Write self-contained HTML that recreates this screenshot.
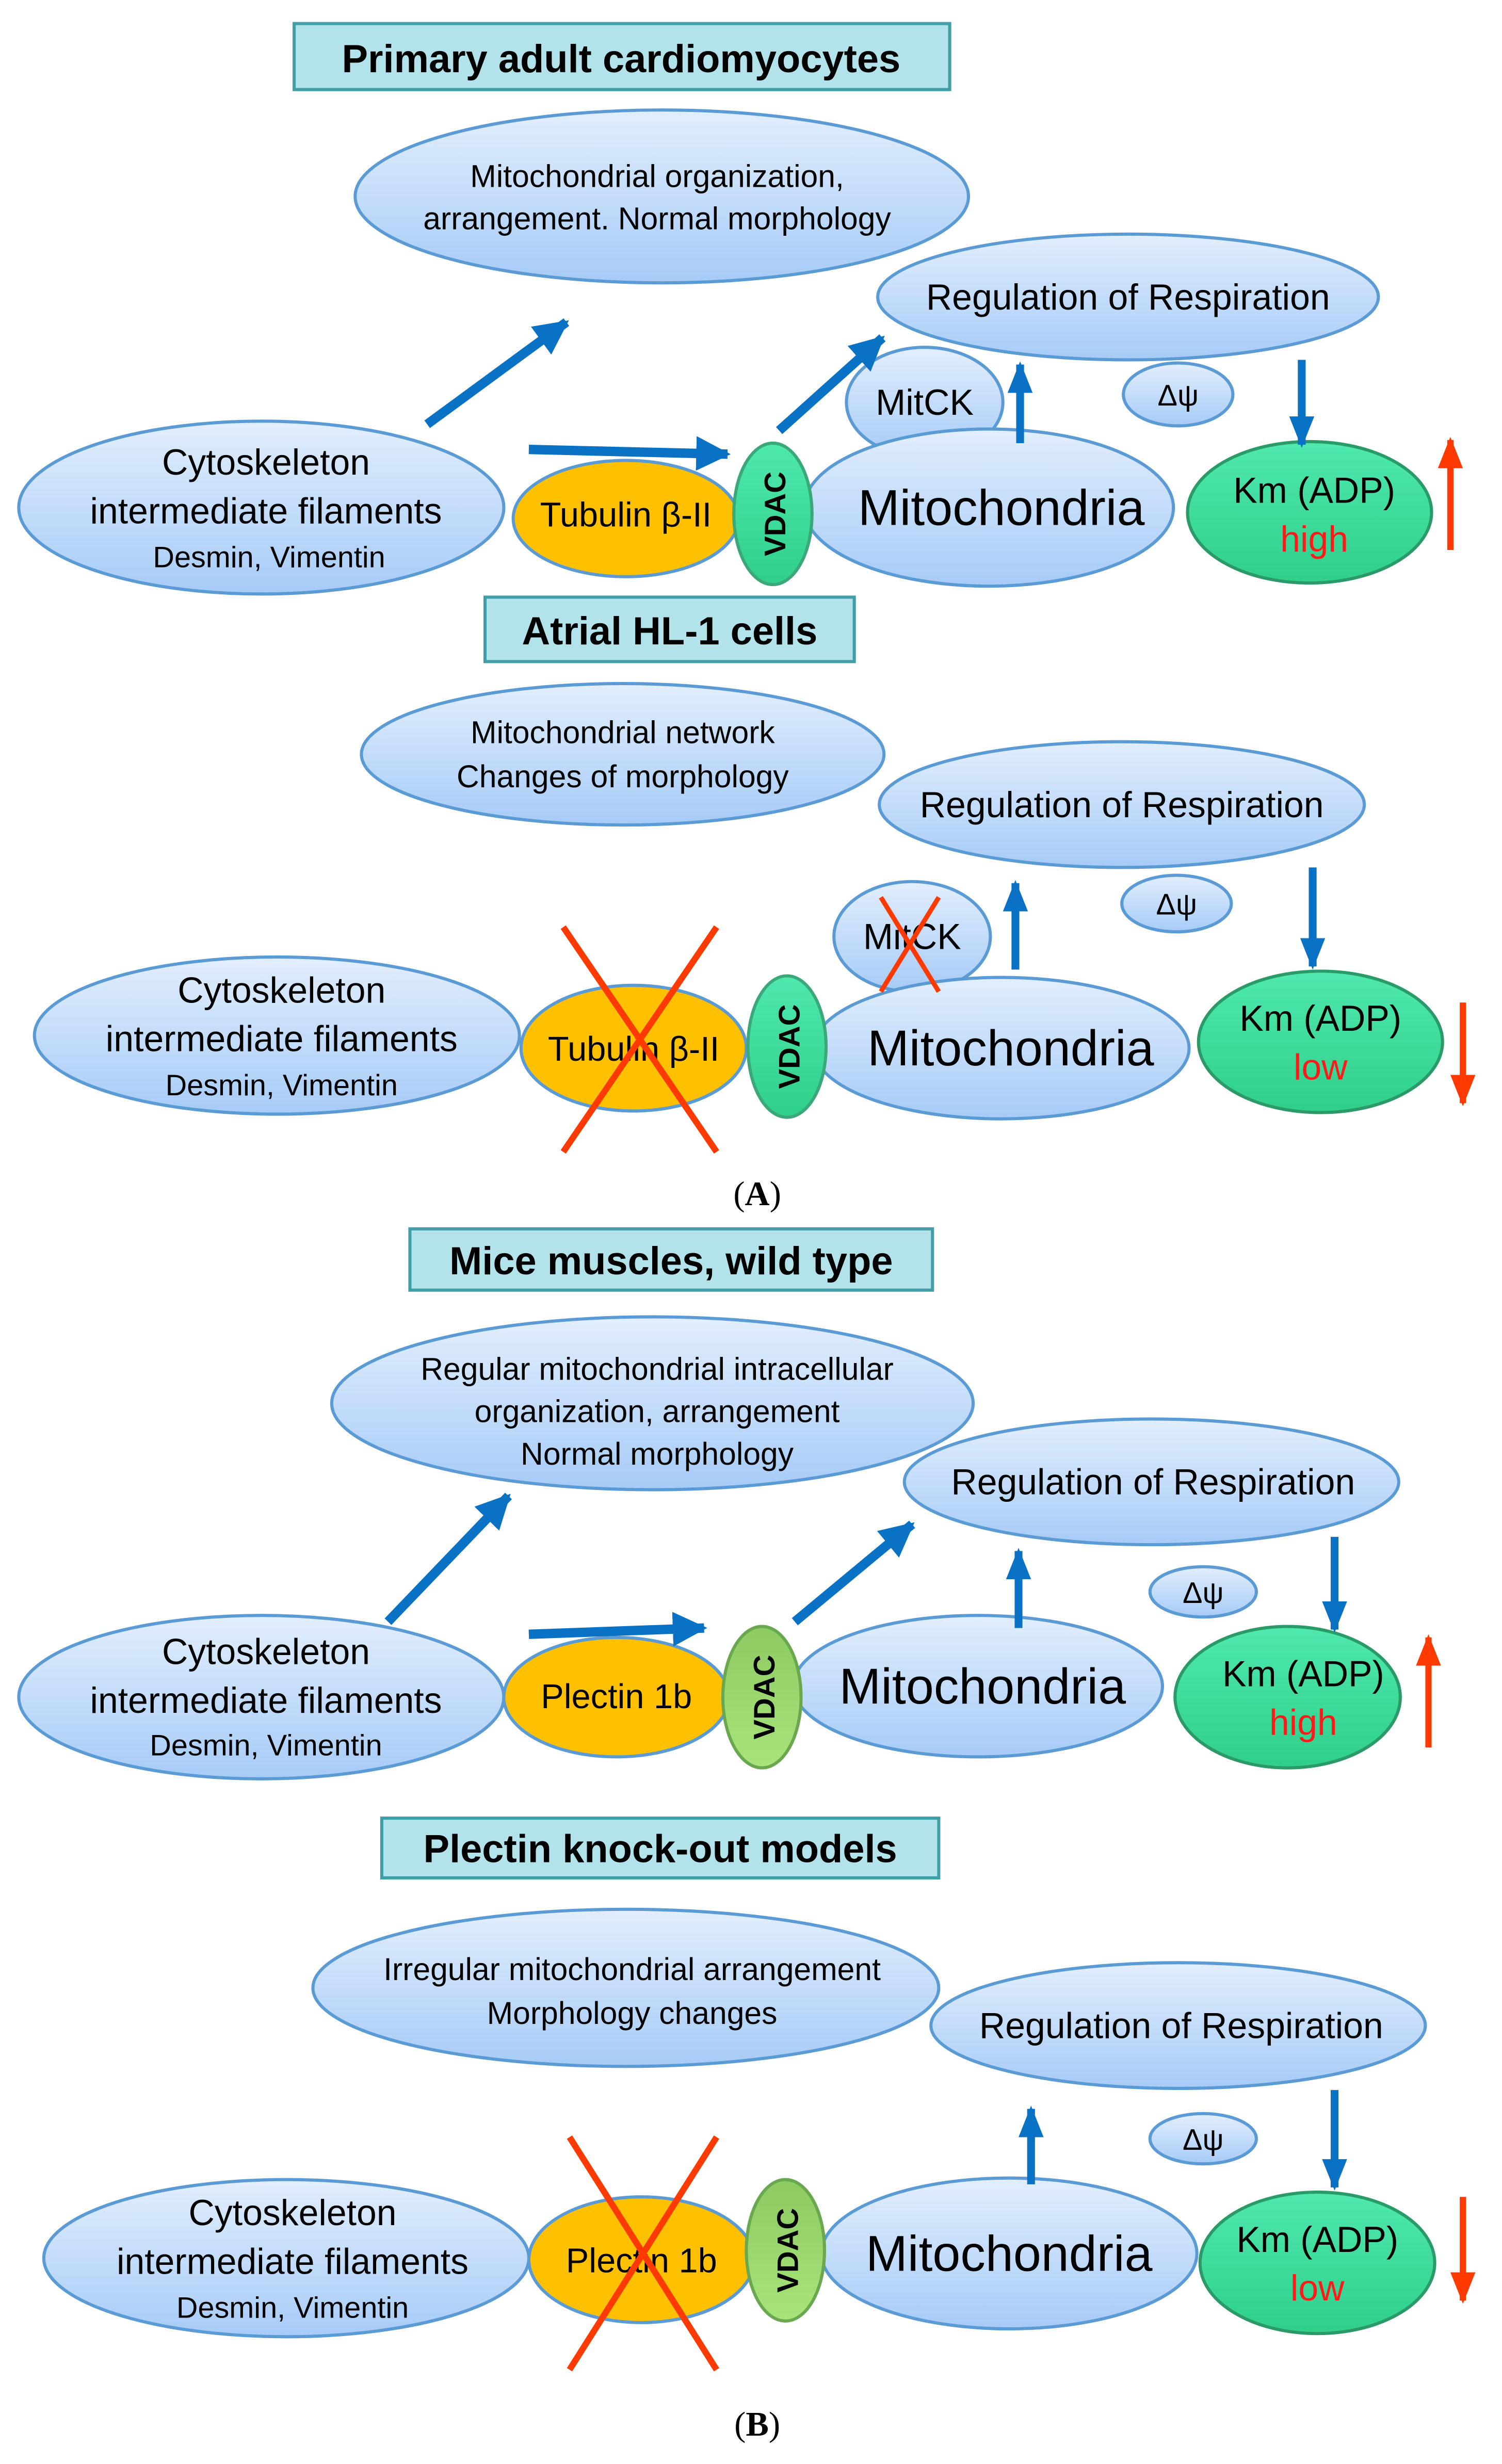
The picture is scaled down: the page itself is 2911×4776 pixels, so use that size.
<!DOCTYPE html>
<html><head><meta charset="utf-8"><style>html,body{margin:0;padding:0;background:#fff}svg{display:block}</style></head>
<body>
<svg width="2911" height="4776" viewBox="0 0 960 1568" preserveAspectRatio="none" xmlns="http://www.w3.org/2000/svg" font-family="'Liberation Sans', Arial, sans-serif">
<defs>
<linearGradient id="bl" x1="0" y1="0" x2="0" y2="1"><stop offset="0" stop-color="#e2eefc"/><stop offset="1" stop-color="#a6cbf7"/></linearGradient>
<linearGradient id="gr" x1="0" y1="0" x2="0" y2="1"><stop offset="0" stop-color="#4fe8ae"/><stop offset="1" stop-color="#2fcf8a"/></linearGradient>
<linearGradient id="lg" x1="0" y1="0" x2="0" y2="1"><stop offset="0" stop-color="#8cca62"/><stop offset="1" stop-color="#a8e47a"/></linearGradient>
<marker id="ab" markerUnits="userSpaceOnUse" markerWidth="30" markerHeight="30" refX="20" refY="11" orient="auto"><path d="M0,0 L22,11 L0,22 z" fill="#0a72c4"/></marker>
<marker id="as" markerUnits="userSpaceOnUse" markerWidth="30" markerHeight="30" refX="18" refY="8" orient="auto"><path d="M0,0 L20,8 L0,16 z" fill="#0a72c4"/></marker>
<marker id="ar" markerUnits="userSpaceOnUse" markerWidth="30" markerHeight="30" refX="18" refY="8" orient="auto"><path d="M0,0 L20,8 L0,16 z" fill="#ff3a00"/></marker>
</defs>
<g stroke="#5b9bd5" stroke-width="2">
<ellipse cx="423" cy="125" rx="196" ry="55" fill="url(#bl)"/>
<ellipse cx="721" cy="189" rx="160" ry="40" fill="url(#bl)"/>
<ellipse cx="591" cy="256" rx="50" ry="35" fill="url(#bl)"/>
<ellipse cx="753" cy="251" rx="35" ry="20" fill="url(#bl)"/>
<ellipse cx="167" cy="323" rx="155" ry="55" fill="url(#bl)"/>
<ellipse cx="400" cy="330" rx="72" ry="37" fill="#ffc000"/>
<ellipse cx="632" cy="323" rx="118" ry="50" fill="url(#bl)"/>
<ellipse cx="494" cy="327" rx="25" ry="45" fill="url(#gr)" stroke="#3aa878"/>
<ellipse cx="837" cy="326" rx="78" ry="45" fill="url(#gr)" stroke="#2a9a68"/>
<ellipse cx="398" cy="480" rx="167" ry="45" fill="url(#bl)"/>
<ellipse cx="717" cy="512" rx="155" ry="40" fill="url(#bl)"/>
<ellipse cx="583" cy="596" rx="50" ry="35" fill="url(#bl)"/>
<ellipse cx="752" cy="575" rx="35" ry="18" fill="url(#bl)"/>
<ellipse cx="177" cy="659" rx="155" ry="50" fill="url(#bl)"/>
<ellipse cx="405" cy="667" rx="72" ry="40" fill="#ffc000"/>
<ellipse cx="640" cy="667" rx="120" ry="45" fill="url(#bl)"/>
<ellipse cx="503" cy="666" rx="25" ry="45" fill="url(#gr)" stroke="#3aa878"/>
<ellipse cx="844" cy="663" rx="78" ry="45" fill="url(#gr)" stroke="#2a9a68"/>
<ellipse cx="417" cy="893" rx="205" ry="55" fill="url(#bl)"/>
<ellipse cx="736" cy="943" rx="158" ry="40" fill="url(#bl)"/>
<ellipse cx="769" cy="1013" rx="34" ry="16" fill="url(#bl)"/>
<ellipse cx="167" cy="1080" rx="155" ry="52" fill="url(#bl)"/>
<ellipse cx="394" cy="1080" rx="72" ry="38" fill="#ffc000"/>
<ellipse cx="625" cy="1073" rx="118" ry="45" fill="url(#bl)"/>
<ellipse cx="487" cy="1080" rx="25" ry="45" fill="url(#lg)" stroke="#6aa84f"/>
<ellipse cx="823" cy="1080" rx="72" ry="45" fill="url(#gr)" stroke="#2a9a68"/>
<ellipse cx="400" cy="1265" rx="200" ry="50" fill="url(#bl)"/>
<ellipse cx="753" cy="1289" rx="158" ry="40" fill="url(#bl)"/>
<ellipse cx="769" cy="1361" rx="34" ry="16" fill="url(#bl)"/>
<ellipse cx="183" cy="1437" rx="155" ry="50" fill="url(#bl)"/>
<ellipse cx="410" cy="1438" rx="72" ry="40" fill="#ffc000"/>
<ellipse cx="645" cy="1434" rx="120" ry="48" fill="url(#bl)"/>
<ellipse cx="502" cy="1432" rx="25" ry="45" fill="url(#lg)" stroke="#6aa84f"/>
<ellipse cx="842" cy="1440" rx="75" ry="45" fill="url(#gr)" stroke="#2a9a68"/>
</g>
<g fill="#b2e3ea" stroke="#3f9ea8" stroke-width="2">
<rect x="188" y="15" width="419" height="42"/>
<rect x="310" y="380" width="236" height="41"/>
<rect x="262" y="782" width="334" height="39"/>
<rect x="244" y="1157" width="356" height="38"/>
</g>
<g font-weight="bold" font-size="25" text-anchor="middle" fill="#000">
<text x="397" y="46">Primary adult cardiomyocytes</text>
<text x="428" y="410">Atrial HL-1 cells</text>
<text x="429" y="811">Mice muscles, wild type</text>
<text x="422" y="1185">Plectin knock-out models</text>
</g>
<g stroke="#0a72c4" stroke-width="6" fill="none" marker-end="url(#ab)">
<line x1="273" y1="270" x2="362" y2="205"/>
<line x1="338" y1="286" x2="465" y2="289"/>
<line x1="498" y1="274" x2="564" y2="215"/>
<line x1="248" y1="1032" x2="325" y2="952"/>
<line x1="338" y1="1040" x2="450" y2="1036"/>
<line x1="508" y1="1032" x2="583" y2="970"/>
</g>
<g stroke="#0a72c4" stroke-width="5" fill="none" marker-end="url(#as)">
<line x1="652" y1="282" x2="652" y2="232"/>
<line x1="832" y1="229" x2="832" y2="283"/>
<line x1="649" y1="617" x2="649" y2="562"/>
<line x1="839" y1="552" x2="839" y2="615"/>
<line x1="651" y1="1036" x2="651" y2="987"/>
<line x1="853" y1="978" x2="853" y2="1037"/>
<line x1="659" y1="1390" x2="659" y2="1342"/>
<line x1="853" y1="1330" x2="853" y2="1392"/>
</g>
<g stroke="#ff3a00" stroke-width="4" fill="none" marker-end="url(#ar)">
<line x1="927" y1="350" x2="927" y2="280"/>
<line x1="935" y1="638" x2="935" y2="702"/>
<line x1="913" y1="1112" x2="913" y2="1042"/>
<line x1="935" y1="1398" x2="935" y2="1464"/>
</g>
<g text-anchor="middle" fill="#000">
<text x="420" y="119" font-size="20">Mitochondrial organization,</text>
<text x="420" y="146" font-size="20">arrangement. Normal morphology</text>
<text x="721" y="197" font-size="23">Regulation of Respiration</text>
<text x="591" y="264" font-size="23">MitCK</text>
<text x="753" y="258" font-size="19">Δψ</text>
<text x="170" y="302" font-size="23">Cytoskeleton</text>
<text x="170" y="333" font-size="23">intermediate filaments</text>
<text x="172" y="361" font-size="19">Desmin,  Vimentin</text>
<text x="400" y="335" font-size="22">Tubulin β-II</text>
<text x="640" y="334" font-size="32">Mitochondria</text>
<text x="840" y="320" font-size="23">Km (ADP)</text>
<text x="840" y="351" font-size="23" fill="#ff1a1a">high</text>
<text transform="translate(502,327) rotate(-90)" font-size="19" font-weight="bold">VDAC</text>
<text x="398" y="473" font-size="20">Mitochondrial network</text>
<text x="398" y="501" font-size="20">Changes of morphology</text>
<text x="717" y="520" font-size="23">Regulation of Respiration</text>
<text x="583" y="604" font-size="23">MitCK</text>
<text x="752" y="582" font-size="19">Δψ</text>
<text x="180" y="638" font-size="23">Cytoskeleton</text>
<text x="180" y="669" font-size="23">intermediate filaments</text>
<text x="180" y="697" font-size="19">Desmin,  Vimentin</text>
<text x="405" y="675" font-size="22">Tubulin β-II</text>
<text x="646" y="678" font-size="32">Mitochondria</text>
<text x="844" y="656" font-size="23">Km (ADP)</text>
<text x="844" y="687" font-size="23" fill="#ff1a1a">low</text>
<text transform="translate(511,666) rotate(-90)" font-size="19" font-weight="bold">VDAC</text>
<text x="484" y="767" font-size="22" font-family="'Liberation Serif', serif">(<tspan font-weight="bold">A</tspan>)</text>
<text x="420" y="878" font-size="20">Regular mitochondrial intracellular</text>
<text x="420" y="905" font-size="20">organization, arrangement</text>
<text x="420" y="932" font-size="20">Normal morphology</text>
<text x="737" y="951" font-size="23">Regulation of Respiration</text>
<text x="769" y="1020" font-size="19">Δψ</text>
<text x="170" y="1059" font-size="23">Cytoskeleton</text>
<text x="170" y="1090" font-size="23">intermediate filaments</text>
<text x="170" y="1117" font-size="19">Desmin,  Vimentin</text>
<text x="394" y="1087" font-size="22">Plectin 1b</text>
<text x="628" y="1084" font-size="32">Mitochondria</text>
<text x="833" y="1073" font-size="23">Km (ADP)</text>
<text x="833" y="1104" font-size="23" fill="#ff1a1a">high</text>
<text transform="translate(495,1080) rotate(-90)" font-size="19" font-weight="bold">VDAC</text>
<text x="404" y="1260" font-size="20">Irregular mitochondrial arrangement</text>
<text x="404" y="1288" font-size="20">Morphology changes</text>
<text x="755" y="1297" font-size="23">Regulation of Respiration</text>
<text x="769" y="1368" font-size="19">Δψ</text>
<text x="187" y="1416" font-size="23">Cytoskeleton</text>
<text x="187" y="1447" font-size="23">intermediate filaments</text>
<text x="187" y="1475" font-size="19">Desmin,  Vimentin</text>
<text x="410" y="1446" font-size="22">Plectin 1b</text>
<text x="645" y="1445" font-size="32">Mitochondria</text>
<text x="842" y="1433" font-size="23">Km (ADP)</text>
<text x="842" y="1464" font-size="23" fill="#ff1a1a">low</text>
<text transform="translate(510,1432) rotate(-90)" font-size="19" font-weight="bold">VDAC</text>
<text x="484" y="1550" font-size="22" font-family="'Liberation Serif', serif">(<tspan font-weight="bold">B</tspan>)</text>
</g>
<g stroke="#ff3a00" stroke-width="4" fill="none">
<line x1="360" y1="590" x2="458" y2="733"/><line x1="458" y1="590" x2="360" y2="733"/>
<line x1="563" y1="571" x2="600" y2="631" stroke-width="3"/><line x1="600" y1="571" x2="563" y2="631" stroke-width="3"/>
<line x1="364" y1="1360" x2="458" y2="1508"/><line x1="458" y1="1360" x2="364" y2="1508"/>
</g>
</svg>
</body></html>
